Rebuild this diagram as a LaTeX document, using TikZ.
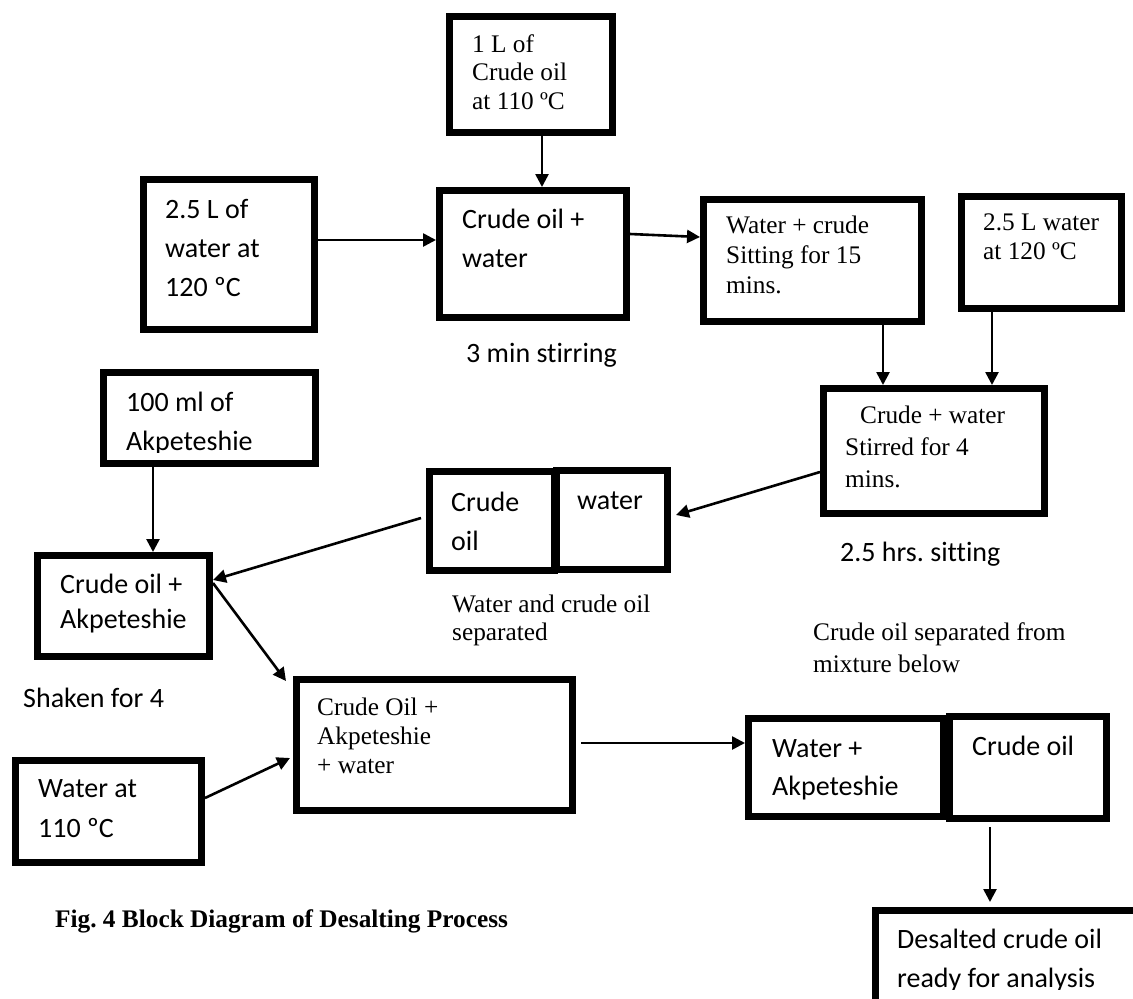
\documentclass[tikz,border=0pt]{standalone}
\usepackage{fontspec}
\setmainfont{Liberation Serif}
\newfontfamily\calfont[Ligatures=NoCommon]{Carlito}
\usetikzlibrary{arrows.meta,calc}
\frenchspacing
\newcommand\tb[1]{\parbox[t]{400pt}{#1}}
\newcommand\bx[5]{\node[box,minimum width={#4pt-#2pt-7pt},minimum height={#5pt-#3pt-7pt}] (#1) at ({(#2+#4)/2},{(#3+#5)/2}) {};}
\tikzset{
  box/.style={draw,line width=7pt,inner sep=0pt,outer sep=3.5pt},
  arr/.style={line width=2.6pt,-{Triangle[length=13pt,width=13pt]}},
  txt/.style={inner sep=0pt,anchor=base west},
  sansA/.style={font={\calfont\fontsize{28}{39}\selectfont}},
  serA/.style={font={\fontsize{25.3}{29}\selectfont}},
}
\begin{document}
\begin{tikzpicture}[x=1pt,y=-1pt]
\fill[white] (0,0) rectangle (1133,999);
\useasboundingbox (0,0) rectangle (1133,999);
% boxes
\bx{A1}{446}{13}{616}{136}
\bx{A2}{140}{176}{318}{333}
\bx{A3}{436}{187}{630}{321}
\bx{A4}{700}{196}{925}{325}
\bx{A5}{958}{193}{1125}{312}
\bx{A6}{820}{385}{1048}{517}
\bx{A9}{100}{369}{319}{467}
\bx{A7}{426}{468}{558}{574}
\bx{A8}{553}{467}{671}{573}
\bx{A10}{34}{552}{213}{660}
\bx{A11}{12}{757}{205}{866}
\bx{A12}{293}{676}{576}{814}
\bx{A13}{745}{715}{947}{820}
\bx{A14}{946}{713}{1110}{822}
\bx{A15}{872}{907}{1160}{1020}
% box texts
\node[txt,font={\fontsize{25.3}{28.5}\selectfont}] (t1) at (472,52) {\tb{1 L of\\Crude oil\\at 110 ºC}};
\node[txt,sansA] (t2) at (165,218) {\tb{2.5 L of\\water at\\120 ºC}};
\node[txt,sansA] (t3) at (462,228) {\tb{Crude oil +\\water}};
\node[txt,font={\fontsize{25.3}{30}\selectfont}] (t4) at (726,233) {\tb{Water + crude\\Sitting for 15\\mins.}};
\node[txt,serA] (t5) at (983,230) {\tb{2.5 L water\\at 120 ºC}};
\node[txt,font={\fontsize{25.3}{32}\selectfont}] (t6) at (845,423) {\tb{\hspace*{15pt}Crude + water\\Stirred for 4\\mins.}};
\node[txt,sansA] (t7) at (451,511) {\tb{Crude\\oil}};
\node[txt,sansA] (t8) at (577,509) {water};
\begin{scope}
\clip (100,369) rectangle (319,452);
\node[txt,sansA] (t9) at (126,411) {\tb{100 ml of\\Akpeteshie}};
\end{scope}
\node[txt,font={\calfont\fontsize{28}{35}\selectfont}] (t10) at (60,593) {\tb{Crude oil +\\Akpeteshie}};
\node[txt,font={\calfont\fontsize{28}{40}\selectfont}] (t11) at (38,797) {\tb{Water at\\110 ºC}};
\node[txt,serA] (t12) at (317,715) {\tb{Crude Oil +\\Akpeteshie\\+ water}};
\node[txt,font={\calfont\fontsize{28}{38}\selectfont}] (t13) at (772,757) {\tb{Water +\\Akpeteshie}};
\node[txt,sansA] (t14) at (972,755) {Crude oil};
\begin{scope}
\clip (872,907) rectangle (1133,989);
\node[txt,sansA] (t15) at (897,948) {\tb{Desalted crude oil\\ready for analysis}};
\end{scope}
% free labels
\node[txt,sansA] (l1) at (466,362) {3 min stirring};
\node[txt,sansA] (l2) at (840,561) {2.5 hrs. sitting};
\node[txt,font={\fontsize{25.3}{28}\selectfont}] (l3) at (452,612) {\tb{Water and crude oil\\separated}};
\node[txt,font={\fontsize{25.3}{32}\selectfont}] (l4) at (813,640) {\tb{Crude oil separated from\\mixture below}};
\node[txt,sansA] (l5) at (23,707) {Shaken for 4};
\node[txt,font={\bfseries\fontsize{25.3}{30}\selectfont}] (cap) at (55,927) {Fig. 4 Block Diagram of Desalting Process};
% arrows
\draw[arr] (A1.south -| 542,0) -- (A3.north -| 542,0);
\draw[arr] (A2.east |- 0,240) -- (A3.west |- 0,240);
\draw[arr] (A3.east |- 0,234) -- (A4.west |- 0,237);
\draw[arr] (A4.south -| 883,0) -- (A6.north -| 883,0);
\draw[arr] (A5.south -| 992,0) -- (A6.north -| 992,0);
\draw[arr] (A6.west |- 0,472) -- ($(A8.east |- 0,515)+(5,0)$);
\draw[arr] ($(A7.west |- 0,518)+(-5,0)$) -- (A10.east |- 0,580);
\draw[arr] (A9.south -| 153,0) -- (A10.north -| 153,0);
\draw[arr] (A10.east |- 0,583) -- ($(A12.north west)+(-7,5)$);
\draw[arr] (A11.east |- 0,798) -- ($(A12.west |- 0,758)+(-3,0)$);
\draw[arr] ($(A12.east |- 0,743)+(5,0)$) -- (A13.west |- 0,743);
\draw[arr] ($(A14.south -| 990,0)+(0,5)$) -- ($(A15.north -| 990,0)+(0,-5)$);
\end{tikzpicture}
\end{document}
